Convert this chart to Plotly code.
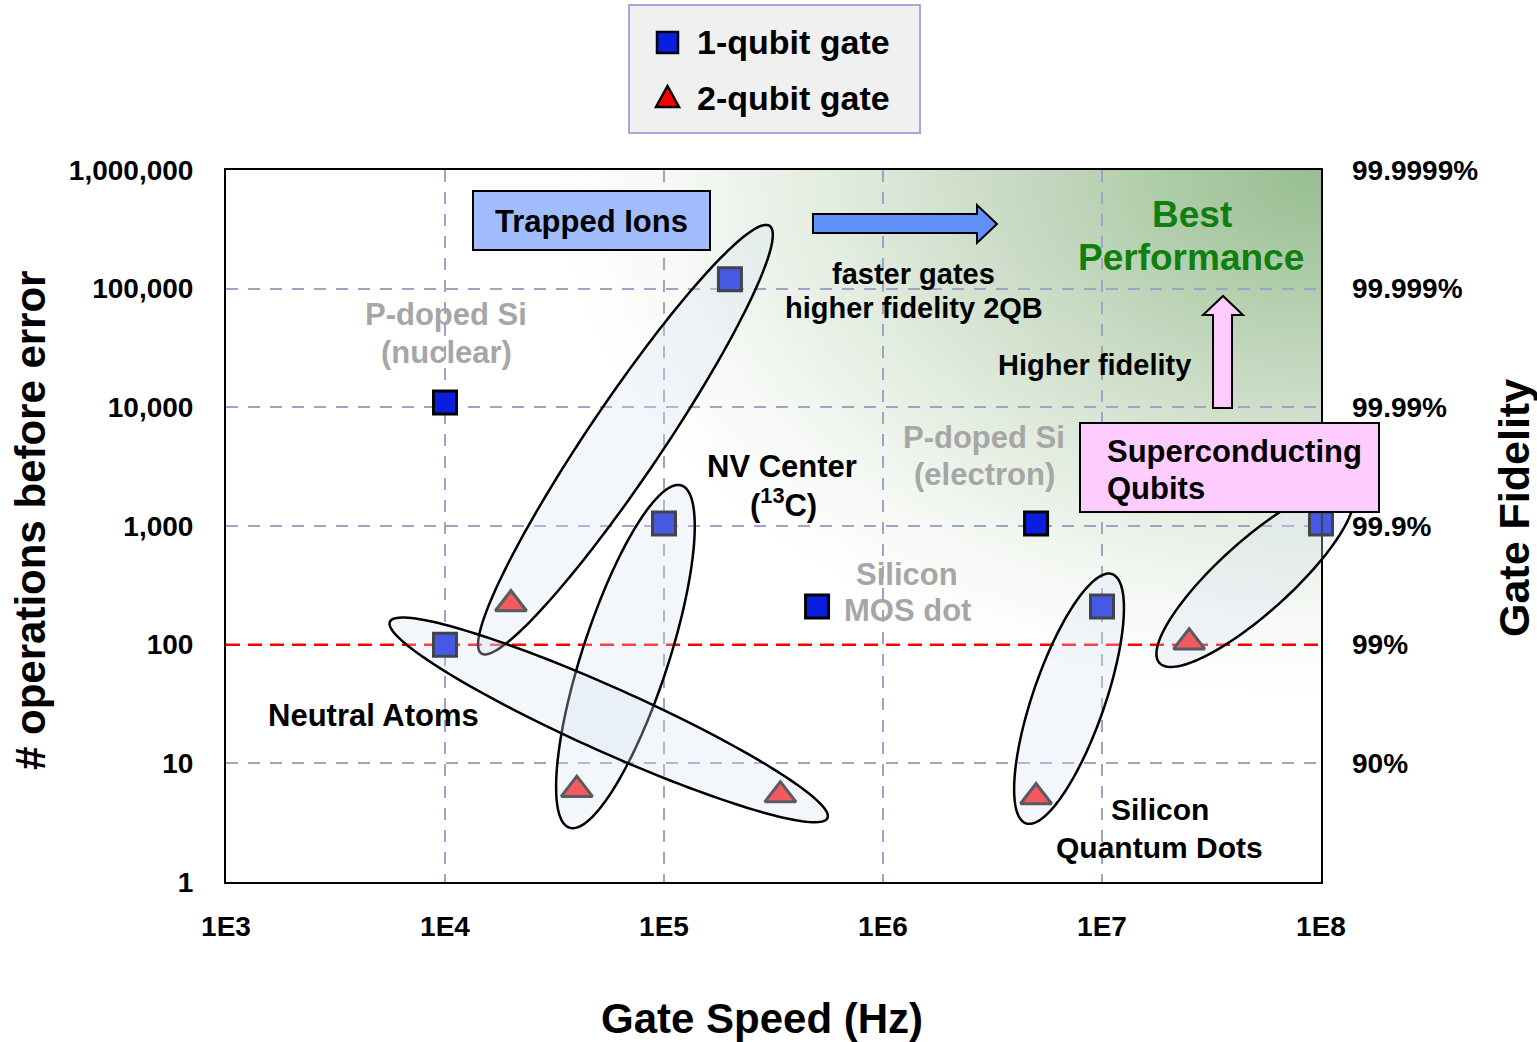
import zlib
import struct
import base64
import numpy as np
import plotly.graph_objects as go

# ---------------- data ----------------
one_qubit_platform = ["P-doped Si (nuclear)", "Neutral Atoms", "Trapped Ions", "NV Center",
                      "Silicon MOS dot", "P-doped Si (electron)", "Silicon Quantum Dots",
                      "Superconducting Qubits"]
one_qubit_speed_hz = [1e4, 1e4, 2e5, 1e5, 5e5, 5e6, 1e7, 1e8]
one_qubit_ops = [11000, 100, 120000, 1050, 210, 1050, 210, 1050]

two_qubit_platform = ["Trapped Ions", "NV Center", "Neutral Atoms", "Silicon Quantum Dots",
                      "Superconducting Qubits"]
two_qubit_speed_hz = [2e4, 4e4, 3.4e5, 5e6, 2.5e7]
two_qubit_ops = [220, 6, 5.4, 5.2, 105]

speed_range = [1e3, 1e8]
threshold_ops = 100

x_tick_vals = [1e3, 1e4, 1e5, 1e6, 1e7, 1e8]
x_tick_text = ["1E3", "1E4", "1E5", "1E6", "1E7", "1E8"]
y_tick_vals = [1, 10, 100, 1e3, 1e4, 1e5, 1e6]
y_tick_text = ["1", "10", "100", "1,000", "10,000", "100,000", "1,000,000"]
fid_tick_vals = [10, 100, 1e3, 1e4, 1e5, 1e6]
fid_tick_text = ["90%", "99%", "99.9%", "99.99%", "99.999%", "99.9999%"]

# platform groups circled: (1-qubit index, 2-qubit index)
groups = {
    "Trapped Ions": (2, 0),
    "NV Center": (3, 1),
    "Neutral Atoms": (1, 2),
    "Silicon Quantum Dots": (6, 3),
    "Superconducting Qubits": (7, 4),
}

# ---------------- layout geometry ----------------
FIG_W, FIG_H = 1537, 1042
PX_L, PX_R, PX_T, PX_B = 226, 1321, 170, 882
W, H = PX_R - PX_L, PX_B - PX_T
XLOG0, XLOG1 = 3, 8
YLOG0, YLOG1 = 0, 6
FONT = "Liberation Sans, Arial, sans-serif"


def px2paper_x(xp):
    return (xp - PX_L) / W


def px2paper_y(yp):
    return (PX_B - yp) / H


def data2px(x, y):
    xp = PX_L + (np.log10(x) - XLOG0) / (XLOG1 - XLOG0) * W
    yp = PX_B - (np.log10(y) - YLOG0) / (YLOG1 - YLOG0) * H
    return xp, yp


def path_from_px(points, close=True):
    s = "M " + " L ".join(f"{px2paper_x(x):.5f},{px2paper_y(y):.5f}" for x, y in points)
    return s + (" Z" if close else "")


def ellipse_path(i1, i2, pad, minor, shift=(0.0, 0.0), n=160):
    x1, y1 = data2px(one_qubit_speed_hz[i1], one_qubit_ops[i1])
    x2, y2 = data2px(two_qubit_speed_hz[i2], two_qubit_ops[i2])
    cx, cy = (x1 + x2) / 2 + shift[0], (y1 + y2) / 2 + shift[1]
    dx, dy = x2 - x1, y2 - y1
    L = np.hypot(dx, dy)
    ux, uy = dx / L, dy / L
    a, b = L / 2 + pad, minor
    t = np.linspace(0, 2 * np.pi, n, endpoint=False)
    xs = cx + a * np.cos(t) * ux - b * np.sin(t) * uy
    ys = cy + a * np.cos(t) * uy + b * np.sin(t) * ux
    return path_from_px(list(zip(xs, ys)))


def png_data_uri(arr):
    h, w, _ = arr.shape
    raw = b"".join(b"\x00" + arr[i].tobytes() for i in range(h))

    def chunk(tag, data):
        c = struct.pack(">I", len(data)) + tag + data
        return c + struct.pack(">I", zlib.crc32(tag + data) & 0xFFFFFFFF)

    png = (b"\x89PNG\r\n\x1a\n"
           + chunk(b"IHDR", struct.pack(">IIBBBBB", w, h, 8, 2, 0, 0, 0))
           + chunk(b"IDAT", zlib.compress(raw, 9))
           + chunk(b"IEND", b""))
    return "data:image/png;base64," + base64.b64encode(png).decode()


# background gradient (green glow from the top-right corner)
step = 3
gw, gh = W // step, H // step
jj, ii = np.meshgrid(np.arange(gw), np.arange(gh))
gx = PX_L + (jj + 0.5) * step
gy = PX_T + (ii + 0.5) * step
tt = np.sqrt(((PX_R - gx) / 760.0) ** 2 + ((gy - PX_T) / 520.0) ** 2)
stop_t = [0.0, 0.2, 0.45, 0.65, 0.85, 1.0]
stop_c = [(152, 190, 146), (174, 204, 168), (206, 222, 201), (228, 237, 225), (246, 249, 245), (255, 255, 255)]
img = np.zeros((gh, gw, 3), dtype=np.uint8)
for ch in range(3):
    img[..., ch] = np.clip(np.interp(tt, stop_t, [c[ch] for c in stop_c]), 0, 255).astype(np.uint8)
bg_uri = png_data_uri(img)

# ---------------- traces ----------------
fig = go.Figure()
fig.add_trace(go.Scatter(
    x=speed_range, y=[threshold_ops, threshold_ops], mode="lines",
    line=dict(color="#ff0000", width=2.5, dash="14px,8px"),
    hoverinfo="skip", showlegend=False))
fig.add_trace(go.Scatter(
    x=one_qubit_speed_hz, y=one_qubit_ops, mode="markers", name="1-qubit gate",
    text=one_qubit_platform, cliponaxis=False,
    marker=dict(symbol="square", size=23, color="#0a1ee0", line=dict(color="black", width=3)),
    showlegend=False))
fig.add_trace(go.Scatter(
    x=two_qubit_speed_hz, y=two_qubit_ops, mode="markers", name="2-qubit gate",
    text=two_qubit_platform, cliponaxis=False,
    marker=dict(symbol="triangle-up", size=27, color="#ff2020", line=dict(color="#222222", width=3)),
    showlegend=False))
# carrier for the fidelity axis
fig.add_trace(go.Scatter(
    x=speed_range, y=[threshold_ops, threshold_ops], yaxis="y2", mode="lines",
    opacity=0, hoverinfo="skip", showlegend=False))

# ---------------- shapes ----------------
shapes = []
ell_params = {
    "Trapped Ions": (62, 37, (5, -2)),
    "NV Center": (40, 43, (5, 0)),
    "Neutral Atoms": (56, 32, (-4, 0)),
    "Silicon Quantum Dots": (31, 36, (0, -3)),
    "Superconducting Qubits": (40, 36, (0, -6)),
}
for name, (i1, i2) in groups.items():
    pad, minor, shift = ell_params[name]
    shapes.append(dict(type="path", xref="paper", yref="paper", layer="above",
                       path=ellipse_path(i1, i2, pad, minor, shift),
                       fillcolor="rgba(215,225,242,0.30)", line=dict(color="black", width=2.5)))

# label boxes
shapes.append(dict(type="rect", xref="paper", yref="paper", layer="above",
                   x0=px2paper_x(473), x1=px2paper_x(710), y0=px2paper_y(250), y1=px2paper_y(191),
                   fillcolor="#a2bdfd", line=dict(color="black", width=2)))
shapes.append(dict(type="rect", xref="paper", yref="paper", layer="above",
                   x0=px2paper_x(1080), x1=px2paper_x(1379), y0=px2paper_y(512), y1=px2paper_y(423),
                   fillcolor="#ffccff", line=dict(color="black", width=2)))
# arrows
shapes.append(dict(type="path", xref="paper", yref="paper", layer="above",
                   path=path_from_px([(813, 214), (977, 214), (977, 205), (997, 224),
                                      (977, 243), (977, 233), (813, 233)]),
                   fillcolor="#6090f8", line=dict(color="black", width=2)))
shapes.append(dict(type="path", xref="paper", yref="paper", layer="above",
                   path=path_from_px([(1213, 408), (1213, 315), (1203, 315), (1223, 296),
                                      (1243, 315), (1232, 315), (1232, 408)]),
                   fillcolor="#ffccff", line=dict(color="black", width=2)))
# legend
shapes.append(dict(type="rect", xref="paper", yref="paper", layer="above",
                   x0=px2paper_x(629), x1=px2paper_x(920), y0=px2paper_y(133), y1=px2paper_y(5),
                   fillcolor="#f0f0f0", line=dict(color="#aaa6dc", width=2)))
shapes.append(dict(type="rect", xref="paper", yref="paper", layer="above",
                   x0=px2paper_x(657), x1=px2paper_x(678), y0=px2paper_y(53), y1=px2paper_y(32),
                   fillcolor="#0a1ee0", line=dict(color="black", width=2.5)))
shapes.append(dict(type="path", xref="paper", yref="paper", layer="above",
                   path=path_from_px([(656, 107), (679, 107), (667.5, 86)]),
                   fillcolor="#ff0000", line=dict(color="black", width=2.5)))

# ---------------- annotations ----------------
GRAY = "#a6a6a6"
GREEN = "#0f7f0f"
labels = [
    # text, x px, y px, size, color, xanchor, angle
    ("Trapped Ions", 591, 221, 31, "black", "center", 0),
    ("Superconducting", 1105, 451, 31, "black", "left", 0),
    ("Qubits", 1105, 488, 31, "black", "left", 0),
    ("Best", 1192, 215, 37, GREEN, "center", 0),
    ("Performance", 1191, 257, 37, GREEN, "center", 0),
    ("faster gates", 913, 274, 29, "black", "center", 0),
    ("higher fidelity 2QB", 914, 308, 29, "black", "center", 0),
    ("Higher fidelity", 1094, 365, 29, "black", "center", 0),
    ("P-doped Si", 446, 314, 31, GRAY, "center", 0),
    ("(nuclear)", 446, 352, 31, GRAY, "center", 0),
    ("NV Center", 782, 466, 31, "black", "center", 0),
    ("(<sup>13</sup>C)", 783, 503, 31, "black", "center", 0),
    ("P-doped Si", 984, 437, 31, GRAY, "center", 0),
    ("(electron)", 984, 474, 31, GRAY, "center", 0),
    ("Silicon", 907, 574, 31, GRAY, "center", 0),
    ("MOS dot", 907, 610, 31, GRAY, "center", 0),
    ("Neutral Atoms", 373, 715, 31, "black", "center", 0),
    ("Silicon", 1160, 809, 30, "black", "center", 0),
    ("Quantum Dots", 1159, 847, 30, "black", "center", 0),
    ("1-qubit gate", 695, 42, 34, "black", "left", 0),
    ("2-qubit gate", 695, 98, 34, "black", "left", 0),
    ("Gate Speed (Hz)", 762, 1018, 42, "black", "center", 0),
    ("# operations before error", 30, 521, 42, "black", "center", -90),
    ("Gate Fidelity", 1514, 508, 43, "black", "center", -90),
]
annotations = []
for text, x, y, size, color, xa, ang in labels:
    annotations.append(dict(text=text, x=px2paper_x(x), y=px2paper_y(y), xref="paper", yref="paper",
                            xanchor=xa, yanchor="middle", showarrow=False, textangle=ang,
                            font=dict(family=FONT, size=size, color=color, weight="bold")))

GRID = "#a2a2c6"
tickfont = dict(family=FONT, size=28, color="black", weight="bold")
fig.update_layout(
    width=FIG_W, height=FIG_H,
    margin=dict(l=PX_L, r=FIG_W - PX_R, t=PX_T, b=FIG_H - PX_B, autoexpand=False),
    paper_bgcolor="white", plot_bgcolor="rgba(0,0,0,0)",
    font=dict(family=FONT, color="black"),
    showlegend=False,
    xaxis=dict(type="log", range=[XLOG0, XLOG1], tickvals=x_tick_vals, ticktext=x_tick_text,
               tickfont=tickfont, ticks="", ticklabelstandoff=18,
               showgrid=True, gridcolor=GRID, gridwidth=1.5, griddash="12px,10px",
               showline=True, linecolor="black", linewidth=2, mirror=True,
               zeroline=False, automargin=False),
    yaxis=dict(type="log", range=[YLOG0, YLOG1], tickvals=y_tick_vals, ticktext=y_tick_text,
               tickfont=tickfont, ticks="", ticklabelstandoff=25,
               showgrid=True, gridcolor=GRID, gridwidth=1.5, griddash="12px,10px",
               showline=True, linecolor="black", linewidth=2, mirror=True,
               zeroline=False, automargin=False),
    yaxis2=dict(type="log", range=[YLOG0, YLOG1], overlaying="y", side="right",
                tickvals=fid_tick_vals, ticktext=fid_tick_text, tickfont=tickfont,
                ticks="", ticklabelstandoff=30, showgrid=False, showline=False,
                zeroline=False, automargin=False),
    shapes=shapes,
    annotations=annotations,
    images=[dict(source=bg_uri, xref="paper", yref="paper", x=0, y=1, sizex=1, sizey=1,
                 xanchor="left", yanchor="top", sizing="stretch", layer="below")],
)

fig.write_html("out.html", config={"displayModeBar": False},
               post_script="document.body.style.margin='0';document.body.style.overflow='hidden';")
